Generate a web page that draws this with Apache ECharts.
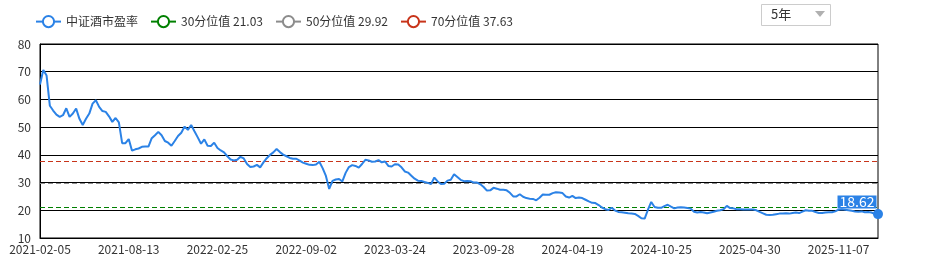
<!DOCTYPE html>
<html><head><meta charset="utf-8">
<script src="https://cdn.jsdelivr.net/npm/echarts@6/dist/echarts.min.js"></script>
<style>html,body{margin:0;padding:0;background:#fff}#c{width:926px;height:261px}</style>
</head><body><div id="c"></div>
<script>
// ---- data ----
var seriesName = '中证酒市盈率';
var p30 = 21.03, p50 = 29.92, p70 = 37.63;
var tickLabels = ['2021-02-05','2021-08-13','2022-02-25','2022-09-02','2023-03-24','2023-09-28','2024-04-19','2024-10-25','2025-04-30','2025-11-07'];
// weekly trading dates (last trading day of each week); weeks fully closed for holidays are skipped
var closedWeeks = ['2022-02-04','2022-10-07','2023-01-27','2023-10-06','2024-02-16'];
var lastTradingDay = {'2021-02-12':'2021-02-10','2021-10-01':'2021-09-30','2023-09-29':'2023-09-28','2024-10-04':'2024-09-30','2025-01-31':'2025-01-27','2025-05-02':'2025-04-30','2025-10-03':'2025-09-30'};
var peValues = [
 65.4,70.6,68.6,57.7,56.0,54.5,53.7,54.3,56.8,53.7,
 54.9,56.7,53.0,50.8,53.0,54.9,58.5,59.7,57.3,55.8,
 55.5,53.9,51.9,53.3,51.7,44.2,44.2,45.7,41.5,42.0,
 42.3,42.9,43.0,43.0,46.0,47.1,48.3,47.1,45.0,44.4,
 43.3,45.0,46.8,48.0,50.2,49.0,50.8,48.5,46.3,44.0,
 45.6,43.3,43.2,44.4,42.5,41.6,40.9,39.5,38.3,38.0,
 38.2,39.3,38.7,36.7,35.6,35.8,36.4,35.5,37.3,38.8,
 40.0,40.9,42.1,41.0,40.1,39.5,38.9,38.6,38.6,37.9,
 37.2,36.8,36.4,36.3,36.5,37.5,35.2,32.4,27.7,30.6,
 31.1,31.3,30.4,33.5,35.6,36.3,36.0,35.4,36.7,38.2,
 38.0,37.5,37.6,38.1,37.3,37.6,36.0,35.8,36.6,36.5,
 35.5,34.0,33.6,32.5,31.4,30.7,30.6,30.2,29.9,29.5,
 31.8,30.4,29.5,29.6,30.7,31.0,33.0,32.0,31.0,30.5,
 30.6,30.5,30.0,30.0,29.4,28.4,27.1,27.2,28.1,27.8,
 27.4,27.4,27.2,26.3,25.0,25.0,25.8,24.9,24.4,24.2,
 24.1,23.6,24.5,25.7,25.6,25.6,26.2,26.5,26.4,26.2,
 25.0,24.6,25.2,24.4,24.6,24.4,23.8,23.2,22.7,22.6,
 21.9,21.0,20.4,20.1,20.9,19.9,19.4,19.3,19.1,18.9,
 18.8,18.7,18.0,17.1,17.0,20.2,23.0,21.2,20.9,20.9,
 21.5,22.0,21.3,20.7,21.0,21.1,21.0,20.8,20.6,19.5,
 19.2,19.4,19.2,18.9,19.2,19.5,19.8,20.0,20.4,21.6,
 20.8,20.7,20.4,20.4,20.3,20.3,20.3,20.3,20.0,19.4,
 18.9,18.4,18.3,18.4,18.6,18.8,18.85,18.9,18.8,19.0,
 19.2,19.0,19.5,20.0,19.8,19.8,19.4,19.0,19.0,19.2,
 19.3,19.3,19.6,20.2,20.4,20.2,20.0,19.8,19.6,19.5,
 19.6,19.3,19.4,19.2,18.7,18.62
];
// ---- build category dates ----
function fmt(d){var m=d.getUTCMonth()+1, dd=d.getUTCDate();return d.getUTCFullYear()+'-'+(m<10?'0':'')+m+'-'+(dd<10?'0':'')+dd;}
var dates = [];
var cur = new Date(Date.UTC(2021,1,5));
while (dates.length < peValues.length) {
  var s = fmt(cur);
  if (closedWeeks.indexOf(s) < 0) dates.push(lastTradingDay[s] || s);
  cur = new Date(cur.getTime() + 7*86400000);
}
var lastIdx = peValues.length - 1;
var blue = '#2b82e6', green = '#008000', gray = '#8c8c8c', red = '#c8341a';
var font = '"Noto Sans CJK SC","Noto Sans",sans-serif';

function refSeries(name, color, val){
  return {name: name, type: 'line', data: [], symbol: 'emptyCircle', symbolSize: 8, color: color,
    lineStyle: {color: color, width: 2},
    markLine: {silent: true, symbol: 'none', label: {show: false},
      lineStyle: {color: color, width: 1, type: [5, 3]}, data: [{yAxis: val}]}};
}

var chart = echarts.init(document.getElementById('c'), null, {renderer: 'canvas'});
chart.setOption({
  animation: false,
  textStyle: {fontFamily: font},
  legend: {left: 30, top: 10, itemWidth: 25, itemHeight: 14, itemGap: 12,
    textStyle: {fontSize: 12, color: '#333', fontFamily: font},
    data: [seriesName, '30分位值 ' + p30.toFixed(2), '50分位值 ' + p50.toFixed(2), '70分位值 ' + p70.toFixed(2)]},
  grid: {left: 40, right: 48, top: 44, bottom: 23, show: true, borderColor: '#000', borderWidth: 1, backgroundColor: 'transparent'},
  xAxis: {type: 'category', boundaryGap: false, data: dates,
    axisLine: {lineStyle: {color: '#000', width: 1}}, axisTick: {show: false},
    axisLabel: {color: '#333', fontSize: 12, margin: 5, fontFamily: font,
      interval: function(i, v){ return tickLabels.indexOf(v) >= 0; }},
    splitLine: {show: false}},
  yAxis: {type: 'value', min: 10, max: 80, interval: 10,
    axisLine: {show: true, lineStyle: {color: '#000', width: 1}}, axisTick: {show: false},
    axisLabel: {color: '#333', fontSize: 12, margin: 9, fontFamily: font},
    splitLine: {lineStyle: {color: '#000', width: 1}}},
  series: [
    {name: seriesName, type: 'line', data: peValues, symbol: 'emptyCircle', symbolSize: 8, showSymbol: false,
      color: blue, lineStyle: {color: blue, width: 2}, z: 5,
      markPoint: {symbol: 'circle', symbolSize: 10, itemStyle: {color: blue},
        label: {show: true, position: 'inside', offset: [-21, -12], color: '#fff', fontSize: 14,
          backgroundColor: blue, padding: [0, 2], lineHeight: 13, fontFamily: font,
          formatter: function(p){ return peValues[lastIdx].toFixed(2); }},
        data: [{coord: [lastIdx, peValues[lastIdx]]}]}},
    refSeries('30分位值 ' + p30.toFixed(2), green, p30),
    refSeries('50分位值 ' + p50.toFixed(2), gray, p50),
    refSeries('70分位值 ' + p70.toFixed(2), red, p70)
  ],
  graphic: [
    {type: 'rect', left: 761, top: 4, shape: {width: 69, height: 21}, style: {fill: '#fff', stroke: '#ccc', lineWidth: 1}},
    {type: 'text', left: 771, top: 8, style: {text: '5年', fill: '#333', fontSize: 13, fontFamily: font}},
    {type: 'polygon', shape: {points: [[815, 11], [825, 11], [820, 17]]}, style: {fill: '#b0b0b0'}}
  ]
});
</script></body></html>
